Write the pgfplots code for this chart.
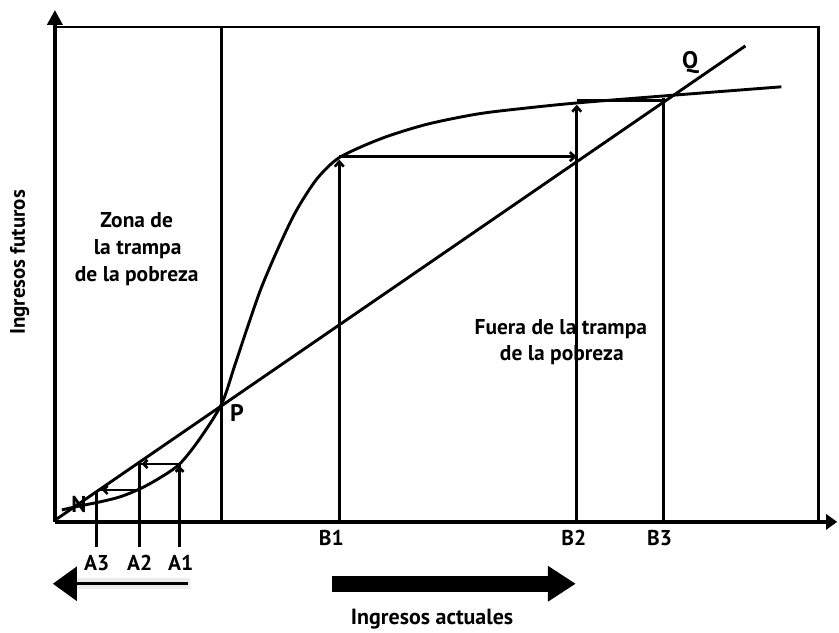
\documentclass[border=0pt]{standalone}
\usepackage{pgfplots}
\pgfplotsset{compat=1.18}
\usepackage{fontspec}
\setmainfont{PT Sans}
\usetikzlibrary{arrows.meta}
\begin{document}
\begin{tikzpicture}[
  mainl/.style={black, line width=2.9pt},
  thn/.style={black, line width=2.6pt},
  lab/.style={font=\bfseries\fontsize{21.5}{25}\selectfont, anchor=base},
  tk/.style={font=\bfseries\fontsize{21.5}{24}\selectfont, anchor=base},
]
\begin{axis}[
  scale only axis, width=839pt, height=633pt,
  xmin=0, xmax=839, ymin=0, ymax=633, y dir=reverse,
  hide axis, clip=false,
]
\addplot[draw=none] coordinates {(0,0) (839,633)};
% frame
\addplot[thn] coordinates {(55,27) (820,27) (820,523)};
% axes
\addplot[black, line width=3.6pt, -{Triangle[length=11pt,width=15pt]}] coordinates {(55,523) (839,523)};
\addplot[black, line width=3.6pt, -{Triangle[length=15pt,width=15pt]}] coordinates {(55,523) (55,10)};
% vertical line at P
\addplot[thn] coordinates {(222,27) (222,523)};
% 45-degree line
\addplot[mainl] coordinates {(57,520) (747,46)};
% S curve
\addplot[mainl, smooth] coordinates {
(62,511) (80,507) (100,503) (120,498) (140,490) (160,479) (180,465) (200,440) (222,405)
(235,367) (248,328) (262,288) (280,246) (297,211) (317,180) (337,160) (360,148) (390,136)
(430,124) (480,114) (530,108) (580,103) (667,96) (783,87)};
% cobweb lines - A side
\addplot[thn] coordinates {(180,548) (180,466)};
\addplot[thn] coordinates {(180,465) (140,465)};
\addplot[thn] coordinates {(140,548) (140,463)};
\addplot[thn] coordinates {(140,491) (99,491)};
\addplot[thn] coordinates {(97,548) (97,493)};
% cobweb lines - B side
\addplot[thn, -{Straight Barb[length=5pt,width=9pt]}] coordinates {(340,523) (340,160)};
\addplot[thn, -{Straight Barb[length=5pt,width=9pt]}] coordinates {(340,157) (578,157)};
\addplot[thn, -{Straight Barb[length=5pt,width=9pt]}] coordinates {(578,523) (578,105)};
\addplot[thn] coordinates {(578,101) (665,101)};
\addplot[thn] coordinates {(665,523) (665,98)};
% small arrow marks on A side
\addplot[thn, -{Straight Barb[length=4pt,width=8pt]}] coordinates {(180,480) (180,467)};
\addplot[thn, -{Straight Barb[length=4pt,width=8pt]}] coordinates {(150,465) (142,465)};
\addplot[thn, -{Straight Barb[length=4pt,width=8pt]}] coordinates {(112,491) (102,491)};
% bottom arrows
\addplot[gray!15, line width=11pt] coordinates {(75,585) (190,585)};
\addplot[black, line width=3pt, {Triangle[length=24pt,width=34pt]}-] coordinates {(53,585) (188,585)};
\addplot[black, line width=16pt, -{Triangle[length=28pt,width=34pt]}] coordinates {(333,585) (577,585)};
% labels
\node[lab] at (axis cs:137,228) {Zona de};
\node[lab] at (axis cs:138,255) {la trampa};
\node[lab] at (axis cs:137,282) {de la pobreza};
\node[lab] at (axis cs:562,335) {Fuera de la trampa};
\node[lab] at (axis cs:563,361) {de la pobreza};
\node[font=\bfseries\fontsize{24}{28}\selectfont, anchor=base west] at (axis cs:227,422) {P};
\node[font=\bfseries\fontsize{24}{28}\selectfont, anchor=base west] at (axis cs:680,69) {Q};
\node[font=\bfseries\fontsize{23}{26}\selectfont, anchor=base west] at (axis cs:68,514) {N};
\node[tk] at (axis cs:97,572) {A3};
\node[tk] at (axis cs:140,572) {A2};
\node[tk] at (axis cs:181,572) {A1};
\node[tk] at (axis cs:332,547) {B1};
\node[tk] at (axis cs:575,547) {B2};
\node[tk] at (axis cs:661,547) {B3};
\node[font=\bfseries\fontsize{22}{26}\selectfont, anchor=base] at (axis cs:433,626) {Ingresos actuales};
\node[font=\bfseries\fontsize{21}{24}\selectfont, anchor=base, rotate=90] at (axis cs:25,263) {Ingresos futuros};
\end{axis}
\end{tikzpicture}
\end{document}
